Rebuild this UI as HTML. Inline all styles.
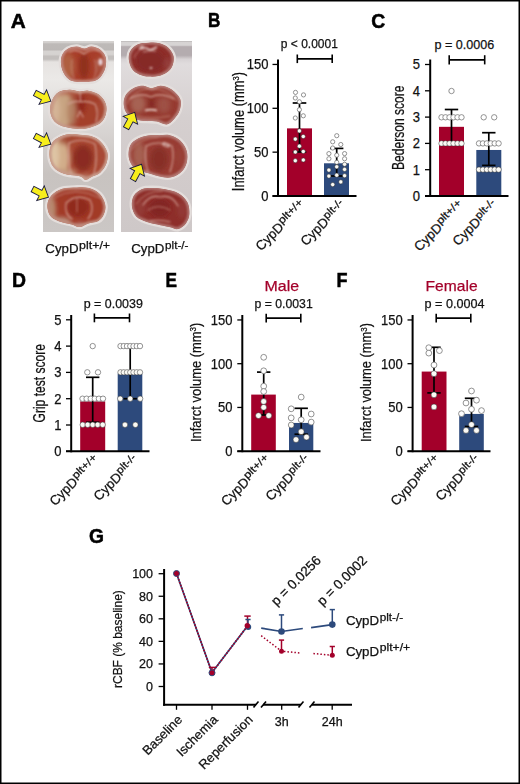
<!DOCTYPE html><html><head><meta charset="utf-8"><style>html,body{margin:0;padding:0;background:#fff;}body{width:520px;height:784px;overflow:hidden;}</style></head><body><svg width="520" height="784" viewBox="0 0 520 784" style="display:block">
<style>text{font-family:"Liberation Sans", sans-serif;stroke:#111;stroke-width:0.25px;paint-order:stroke;} text[fill="#a3002a"]{stroke:#a3002a;}</style>
<rect x="0" y="0" width="520" height="784" fill="#fff"/>
<defs>
<linearGradient id="bgL" x1="0" y1="41" x2="0" y2="232" gradientUnits="userSpaceOnUse">
<stop offset="0" stop-color="#d7d4d2"/><stop offset="0.008" stop-color="#d2cfcd"/><stop offset="0.015" stop-color="#bebab8"/>
<stop offset="0.045" stop-color="#bcb8b6"/><stop offset="0.055" stop-color="#d6d3d1"/><stop offset="0.07" stop-color="#d6d3d1"/>
<stop offset="0.08" stop-color="#c3bfbd"/><stop offset="0.095" stop-color="#c3bfbd"/><stop offset="0.11" stop-color="#e6e3e1"/>
<stop offset="0.2" stop-color="#ebe9e7"/><stop offset="0.33" stop-color="#e2dfdd"/><stop offset="0.52" stop-color="#d4d0ce"/><stop offset="0.7" stop-color="#c8c3c0"/><stop offset="1" stop-color="#cbc7c5"/>
</linearGradient>
<linearGradient id="bgR" x1="0" y1="41" x2="0" y2="232" gradientUnits="userSpaceOnUse">
<stop offset="0" stop-color="#bab6b6"/><stop offset="0.008" stop-color="#d7d4d4"/><stop offset="0.022" stop-color="#d7d4d4"/>
<stop offset="0.03" stop-color="#b4acaf"/><stop offset="0.075" stop-color="#b4acaf"/><stop offset="0.095" stop-color="#d7d2d4"/>
<stop offset="0.12" stop-color="#e0dcdd"/><stop offset="0.4" stop-color="#d5cfcf"/><stop offset="0.7" stop-color="#d2cbcb"/><stop offset="1" stop-color="#cec8c8"/>
</linearGradient>
<filter id="soft" x="-10%" y="-10%" width="120%" height="120%"><feGaussianBlur stdDeviation="0.6"/></filter>
<filter id="b2" x="-30%" y="-30%" width="160%" height="160%"><feGaussianBlur stdDeviation="2.2"/></filter>
<filter id="b1" x="-30%" y="-30%" width="160%" height="160%"><feGaussianBlur stdDeviation="1"/></filter>

<clipPath id="cL1"><path d="M84.5,48.6 C87.0,48.6 88.9,46.4 91.5,46.6 C94.1,46.8 97.8,47.9 100.1,49.6 C102.4,51.4 104.7,54.2 105.6,57.1 C106.5,60.0 106.2,63.8 105.6,66.8 C105.0,69.8 103.4,73.0 101.8,75.3 C100.2,77.6 98.6,79.4 95.7,80.5 C92.8,81.6 88.4,81.9 84.5,82.0 C80.6,82.1 75.5,82.1 72.3,81.0 C69.1,79.9 67.0,78.0 65.2,75.4 C63.4,72.9 61.8,69.0 61.2,65.7 C60.7,62.4 60.8,58.3 61.9,55.5 C63.0,52.7 65.4,50.3 67.8,48.8 C70.2,47.3 73.7,46.6 76.5,46.6 C79.3,46.6 82.0,48.6 84.5,48.6 Z"/></clipPath>
<clipPath id="cL2"><path d="M79.3,91.4 C82.4,91.6 85.1,90.1 88.4,90.7 C91.7,91.3 96.3,92.5 99.2,94.8 C102.1,97.0 104.8,100.8 105.9,104.2 C107.0,107.6 106.5,111.9 105.6,115.0 C104.7,118.1 103.1,120.9 100.5,123.0 C97.9,125.1 93.3,126.7 89.8,127.7 C86.3,128.7 83.8,129.2 79.7,129.1 C75.7,129.0 69.7,128.3 65.5,127.1 C61.4,125.9 57.4,124.4 54.8,121.7 C52.2,119.0 50.5,114.5 50.1,110.9 C49.7,107.3 50.7,103.3 52.1,100.2 C53.5,97.1 55.9,93.8 58.8,92.1 C61.7,90.3 66.2,89.8 69.6,89.7 C73.0,89.6 76.2,91.2 79.3,91.4 Z"/></clipPath>
<clipPath id="cL3"><path d="M80.3,134.7 C83.7,135.0 87.7,135.0 91.1,136.1 C94.5,137.2 97.8,138.8 100.5,141.5 C103.2,144.2 106.3,148.6 107.3,152.2 C108.3,155.8 107.7,159.6 106.6,163.0 C105.5,166.4 102.8,170.2 100.5,172.4 C98.2,174.7 95.0,175.3 92.5,176.5 C90.0,177.7 87.7,179.8 85.7,179.8 C83.7,179.8 83.9,177.5 80.3,176.5 C76.7,175.5 68.7,175.4 64.2,173.8 C59.7,172.2 55.9,170.2 53.4,167.0 C50.9,163.8 49.6,158.9 49.4,154.9 C49.2,150.9 50.1,145.9 52.1,142.8 C54.1,139.7 58.4,137.6 61.5,136.1 C64.6,134.6 67.8,134.2 70.9,134.0 C74.0,133.8 76.9,134.3 80.3,134.7 Z"/></clipPath>
<clipPath id="cL4"><path d="M77.0,187.4 C81.5,187.3 85.3,187.0 89.1,188.1 C92.9,189.2 97.2,191.3 99.9,194.1 C102.6,196.9 104.6,201.5 105.3,204.9 C106.0,208.3 105.0,211.6 103.9,214.3 C102.8,217.0 101.2,219.4 98.5,221.0 C95.8,222.6 90.9,222.7 87.8,223.7 C84.7,224.7 82.4,227.0 79.7,227.1 C77.0,227.2 75.2,225.4 71.6,224.4 C68.0,223.4 61.8,222.5 58.2,221.0 C54.6,219.5 51.9,218.3 50.1,215.6 C48.3,212.9 47.2,208.2 47.4,204.9 C47.6,201.6 48.9,198.2 51.4,195.5 C53.9,192.8 57.9,190.0 62.2,188.7 C66.5,187.3 72.5,187.5 77.0,187.4 Z"/></clipPath>
<clipPath id="cR1"><path d="M148.8,42.7 C152.4,42.5 156.3,42.4 159.5,43.2 C162.7,44.0 165.8,45.4 168.1,47.5 C170.4,49.6 172.8,53.1 173.5,56.1 C174.2,59.1 173.5,63.1 172.4,65.8 C171.3,68.5 169.4,70.6 167.1,72.3 C164.8,74.0 161.4,75.4 158.4,76.1 C155.4,76.8 152.0,76.9 148.8,76.6 C145.6,76.3 141.9,75.7 139.1,74.4 C136.3,73.2 133.8,71.6 132.1,69.1 C130.4,66.6 129.1,62.4 128.8,59.4 C128.5,56.4 129.0,53.3 130.5,50.8 C132.0,48.3 134.9,45.6 138.0,44.3 C141.1,42.9 145.2,42.9 148.8,42.7 Z"/></clipPath>
<clipPath id="cR2"><path d="M151.4,88.2 C154.3,88.2 157.2,85.5 160.6,85.7 C164.0,85.9 168.4,87.2 171.7,89.4 C175.0,91.7 179.0,95.7 180.3,99.2 C181.6,102.7 180.7,107.0 179.7,110.3 C178.7,113.6 176.3,116.5 174.2,118.9 C172.0,121.3 169.7,124.0 166.8,124.5 C163.9,125.0 160.3,122.2 157.0,121.6 C153.7,121.0 150.2,121.3 147.0,121.0 C143.8,120.7 141.3,121.2 138.0,120.0 C134.7,118.8 129.8,116.6 127.4,114.0 C125.0,111.4 123.9,107.5 123.7,104.2 C123.5,100.9 124.3,97.1 126.2,94.3 C128.1,91.5 131.9,88.9 134.8,87.5 C137.7,86.1 140.6,85.6 143.4,85.7 C146.2,85.8 148.5,88.2 151.4,88.2 Z"/></clipPath>
<clipPath id="cR3"><path d="M159.3,135.2 C162.6,135.2 166.3,134.3 169.8,135.2 C173.3,136.1 177.4,137.9 180.2,140.5 C183.0,143.1 185.6,147.2 186.7,150.9 C187.8,154.6 187.6,159.2 186.7,162.7 C185.8,166.2 183.9,169.4 181.5,171.8 C179.1,174.2 175.7,176.2 172.4,177.1 C169.1,178.0 166.1,177.8 161.9,177.1 C157.8,176.4 151.8,174.4 147.5,173.1 C143.2,171.8 138.7,171.1 135.8,169.2 C132.9,167.2 131.1,164.2 129.9,161.4 C128.7,158.6 128.3,155.2 128.6,152.2 C128.9,149.1 129.7,145.6 131.8,143.1 C133.9,140.6 137.9,138.5 141.0,137.2 C144.1,135.9 147.0,135.5 150.1,135.2 C153.2,134.9 156.0,135.2 159.3,135.2 Z"/></clipPath>
<clipPath id="cR4"><path d="M152.1,187.9 C156.0,187.9 160.8,188.3 165.2,189.2 C169.6,190.1 174.6,191.0 178.3,193.2 C182.0,195.4 185.6,198.8 187.4,202.3 C189.2,205.8 189.6,210.6 189.4,214.1 C189.2,217.6 187.9,220.7 186.1,223.2 C184.2,225.7 181.1,228.4 178.3,229.1 C175.5,229.8 172.6,227.9 169.1,227.1 C165.6,226.3 161.1,225.4 157.4,224.5 C153.7,223.6 150.4,223.2 146.9,221.9 C143.4,220.6 139.0,219.3 136.5,216.7 C134.0,214.1 132.3,209.7 131.9,206.2 C131.5,202.7 132.2,198.6 133.8,195.8 C135.4,193.0 138.6,190.5 141.7,189.2 C144.8,187.9 148.2,187.9 152.1,187.9 Z"/></clipPath>
</defs>
<rect x="43" y="41" width="71" height="191" fill="url(#bgL)"/>
<rect x="121" y="41" width="71" height="191" fill="url(#bgR)"/>
<g filter="url(#soft)">
<path d="M84.5,48.6 C87.0,48.6 88.9,46.4 91.5,46.6 C94.1,46.8 97.8,47.9 100.1,49.6 C102.4,51.4 104.7,54.2 105.6,57.1 C106.5,60.0 106.2,63.8 105.6,66.8 C105.0,69.8 103.4,73.0 101.8,75.3 C100.2,77.6 98.6,79.4 95.7,80.5 C92.8,81.6 88.4,81.9 84.5,82.0 C80.6,82.1 75.5,82.1 72.3,81.0 C69.1,79.9 67.0,78.0 65.2,75.4 C63.4,72.9 61.8,69.0 61.2,65.7 C60.7,62.4 60.8,58.3 61.9,55.5 C63.0,52.7 65.4,50.3 67.8,48.8 C70.2,47.3 73.7,46.6 76.5,46.6 C79.3,46.6 82.0,48.6 84.5,48.6 Z" fill="#e2dcda" stroke="#e4dedc" stroke-width="4.6" stroke-linejoin="round"/>
<g clip-path="url(#cL1)">
<path d="M84.5,48.6 C87.0,48.6 88.9,46.4 91.5,46.6 C94.1,46.8 97.8,47.9 100.1,49.6 C102.4,51.4 104.7,54.2 105.6,57.1 C106.5,60.0 106.2,63.8 105.6,66.8 C105.0,69.8 103.4,73.0 101.8,75.3 C100.2,77.6 98.6,79.4 95.7,80.5 C92.8,81.6 88.4,81.9 84.5,82.0 C80.6,82.1 75.5,82.1 72.3,81.0 C69.1,79.9 67.0,78.0 65.2,75.4 C63.4,72.9 61.8,69.0 61.2,65.7 C60.7,62.4 60.8,58.3 61.9,55.5 C63.0,52.7 65.4,50.3 67.8,48.8 C70.2,47.3 73.7,46.6 76.5,46.6 C79.3,46.6 82.0,48.6 84.5,48.6 Z" fill="#a83e2a"/>
<g filter="url(#b2)"><ellipse cx="68" cy="66" rx="7" ry="13" fill="#b26846" opacity="0.8"/><ellipse cx="100" cy="66" rx="5" ry="10" fill="#aa5a48" opacity="0.6"/><ellipse cx="84" cy="66" rx="5" ry="13" fill="#8a2a1c" opacity="0.8"/></g>
<path d="M84.5,48.6 C87.0,48.6 88.9,46.4 91.5,46.6 C94.1,46.8 97.8,47.9 100.1,49.6 C102.4,51.4 104.7,54.2 105.6,57.1 C106.5,60.0 106.2,63.8 105.6,66.8 C105.0,69.8 103.4,73.0 101.8,75.3 C100.2,77.6 98.6,79.4 95.7,80.5 C92.8,81.6 88.4,81.9 84.5,82.0 C80.6,82.1 75.5,82.1 72.3,81.0 C69.1,79.9 67.0,78.0 65.2,75.4 C63.4,72.9 61.8,69.0 61.2,65.7 C60.7,62.4 60.8,58.3 61.9,55.5 C63.0,52.7 65.4,50.3 67.8,48.8 C70.2,47.3 73.7,46.6 76.5,46.6 C79.3,46.6 82.0,48.6 84.5,48.6 Z" fill="none" stroke="#c0867a" stroke-width="4.2" filter="url(#b1)"/>
<g filter="url(#b1)"><path d="M69,52 Q76,48 84,54 Q91,48 99,51" fill="none" stroke="#d4a498" stroke-width="1.1" stroke-linecap="round"/><ellipse cx="100.5" cy="62" rx="2.2" ry="3.5" fill="#e6d2d8"/><path d="M72,60 Q70,70 74,78 M95,60 Q98,70 94,78" fill="none" stroke="#c48878" stroke-width="0.9" stroke-linecap="round"/></g>
</g>
<path d="M79.3,91.4 C82.4,91.6 85.1,90.1 88.4,90.7 C91.7,91.3 96.3,92.5 99.2,94.8 C102.1,97.0 104.8,100.8 105.9,104.2 C107.0,107.6 106.5,111.9 105.6,115.0 C104.7,118.1 103.1,120.9 100.5,123.0 C97.9,125.1 93.3,126.7 89.8,127.7 C86.3,128.7 83.8,129.2 79.7,129.1 C75.7,129.0 69.7,128.3 65.5,127.1 C61.4,125.9 57.4,124.4 54.8,121.7 C52.2,119.0 50.5,114.5 50.1,110.9 C49.7,107.3 50.7,103.3 52.1,100.2 C53.5,97.1 55.9,93.8 58.8,92.1 C61.7,90.3 66.2,89.8 69.6,89.7 C73.0,89.6 76.2,91.2 79.3,91.4 Z" fill="#e2dcda" stroke="#e4dedc" stroke-width="4.6" stroke-linejoin="round"/>
<g clip-path="url(#cL2)">
<path d="M79.3,91.4 C82.4,91.6 85.1,90.1 88.4,90.7 C91.7,91.3 96.3,92.5 99.2,94.8 C102.1,97.0 104.8,100.8 105.9,104.2 C107.0,107.6 106.5,111.9 105.6,115.0 C104.7,118.1 103.1,120.9 100.5,123.0 C97.9,125.1 93.3,126.7 89.8,127.7 C86.3,128.7 83.8,129.2 79.7,129.1 C75.7,129.0 69.7,128.3 65.5,127.1 C61.4,125.9 57.4,124.4 54.8,121.7 C52.2,119.0 50.5,114.5 50.1,110.9 C49.7,107.3 50.7,103.3 52.1,100.2 C53.5,97.1 55.9,93.8 58.8,92.1 C61.7,90.3 66.2,89.8 69.6,89.7 C73.0,89.6 76.2,91.2 79.3,91.4 Z" fill="#a4402c"/>
<g filter="url(#b2)"><ellipse cx="61" cy="110" rx="13" ry="19" fill="#c8a482"/><ellipse cx="55" cy="110" rx="5" ry="14" fill="#d4b496"/><ellipse cx="72" cy="112" rx="5" ry="15" fill="#b07a5e" opacity="0.8"/><ellipse cx="68" cy="91.5" rx="12" ry="3.5" fill="#b46650" opacity="0.85"/><ellipse cx="81" cy="104" rx="4.5" ry="10" fill="#8e2218" opacity="0.9"/><ellipse cx="102" cy="110" rx="4" ry="12" fill="#a84c36" opacity="0.7"/></g>
<path d="M79.3,91.4 C82.4,91.6 85.1,90.1 88.4,90.7 C91.7,91.3 96.3,92.5 99.2,94.8 C102.1,97.0 104.8,100.8 105.9,104.2 C107.0,107.6 106.5,111.9 105.6,115.0 C104.7,118.1 103.1,120.9 100.5,123.0 C97.9,125.1 93.3,126.7 89.8,127.7 C86.3,128.7 83.8,129.2 79.7,129.1 C75.7,129.0 69.7,128.3 65.5,127.1 C61.4,125.9 57.4,124.4 54.8,121.7 C52.2,119.0 50.5,114.5 50.1,110.9 C49.7,107.3 50.7,103.3 52.1,100.2 C53.5,97.1 55.9,93.8 58.8,92.1 C61.7,90.3 66.2,89.8 69.6,89.7 C73.0,89.6 76.2,91.2 79.3,91.4 Z" fill="none" stroke="#c69a8a" stroke-width="4.2" filter="url(#b1)"/>
<g filter="url(#b1)"><path d="M80,92 L80.5,102 M68,104 Q74,100 80.5,102 Q87,100 95,104 Q99,112 96,122" fill="none" stroke="#d4a498" stroke-width="1.1" stroke-linecap="round"/><path d="M77.5,117 L80,111 L83,117" fill="none" stroke="#d4a498" stroke-width="1.1" stroke-linecap="round"/><path d="M52,110 Q54,96 66,92" fill="none" stroke="#c48878" stroke-width="0.9" stroke-linecap="round"/></g>
</g>
<path d="M80.3,134.7 C83.7,135.0 87.7,135.0 91.1,136.1 C94.5,137.2 97.8,138.8 100.5,141.5 C103.2,144.2 106.3,148.6 107.3,152.2 C108.3,155.8 107.7,159.6 106.6,163.0 C105.5,166.4 102.8,170.2 100.5,172.4 C98.2,174.7 95.0,175.3 92.5,176.5 C90.0,177.7 87.7,179.8 85.7,179.8 C83.7,179.8 83.9,177.5 80.3,176.5 C76.7,175.5 68.7,175.4 64.2,173.8 C59.7,172.2 55.9,170.2 53.4,167.0 C50.9,163.8 49.6,158.9 49.4,154.9 C49.2,150.9 50.1,145.9 52.1,142.8 C54.1,139.7 58.4,137.6 61.5,136.1 C64.6,134.6 67.8,134.2 70.9,134.0 C74.0,133.8 76.9,134.3 80.3,134.7 Z" fill="#e2dcda" stroke="#e4dedc" stroke-width="4.6" stroke-linejoin="round"/>
<g clip-path="url(#cL3)">
<path d="M80.3,134.7 C83.7,135.0 87.7,135.0 91.1,136.1 C94.5,137.2 97.8,138.8 100.5,141.5 C103.2,144.2 106.3,148.6 107.3,152.2 C108.3,155.8 107.7,159.6 106.6,163.0 C105.5,166.4 102.8,170.2 100.5,172.4 C98.2,174.7 95.0,175.3 92.5,176.5 C90.0,177.7 87.7,179.8 85.7,179.8 C83.7,179.8 83.9,177.5 80.3,176.5 C76.7,175.5 68.7,175.4 64.2,173.8 C59.7,172.2 55.9,170.2 53.4,167.0 C50.9,163.8 49.6,158.9 49.4,154.9 C49.2,150.9 50.1,145.9 52.1,142.8 C54.1,139.7 58.4,137.6 61.5,136.1 C64.6,134.6 67.8,134.2 70.9,134.0 C74.0,133.8 76.9,134.3 80.3,134.7 Z" fill="#a84732"/>
<g filter="url(#b2)"><ellipse cx="58" cy="158" rx="11.5" ry="22" fill="#d2ad8a"/><ellipse cx="54" cy="156" rx="5" ry="15" fill="#dec4a4"/><ellipse cx="66" cy="173" rx="10" ry="4" fill="#c29a7c"/><ellipse cx="66" cy="140" rx="8" ry="5" fill="#a04a34" opacity="0.7"/><ellipse cx="83" cy="158" rx="10" ry="13" fill="#87281e" opacity="0.9"/><ellipse cx="102" cy="156" rx="4" ry="14" fill="#a84c36" opacity="0.6"/><ellipse cx="86" cy="178" rx="4" ry="3" fill="#c09080"/></g>
<path d="M80.3,134.7 C83.7,135.0 87.7,135.0 91.1,136.1 C94.5,137.2 97.8,138.8 100.5,141.5 C103.2,144.2 106.3,148.6 107.3,152.2 C108.3,155.8 107.7,159.6 106.6,163.0 C105.5,166.4 102.8,170.2 100.5,172.4 C98.2,174.7 95.0,175.3 92.5,176.5 C90.0,177.7 87.7,179.8 85.7,179.8 C83.7,179.8 83.9,177.5 80.3,176.5 C76.7,175.5 68.7,175.4 64.2,173.8 C59.7,172.2 55.9,170.2 53.4,167.0 C50.9,163.8 49.6,158.9 49.4,154.9 C49.2,150.9 50.1,145.9 52.1,142.8 C54.1,139.7 58.4,137.6 61.5,136.1 C64.6,134.6 67.8,134.2 70.9,134.0 C74.0,133.8 76.9,134.3 80.3,134.7 Z" fill="none" stroke="#c89c8c" stroke-width="4.2" filter="url(#b1)"/>
<g filter="url(#b1)"><path d="M69,143 Q81,137 95,144 Q98,158 94,174" fill="none" stroke="#d4a498" stroke-width="1.1" stroke-linecap="round" stroke-width="1.4"/><path d="M69,143 Q67,158 71,174" fill="none" stroke="#d4a498" stroke-width="1.1" stroke-linecap="round"/><path d="M52,146 Q58,137 70,135" fill="none" stroke="#c48878" stroke-width="0.9" stroke-linecap="round"/></g>
</g>
<path d="M77.0,187.4 C81.5,187.3 85.3,187.0 89.1,188.1 C92.9,189.2 97.2,191.3 99.9,194.1 C102.6,196.9 104.6,201.5 105.3,204.9 C106.0,208.3 105.0,211.6 103.9,214.3 C102.8,217.0 101.2,219.4 98.5,221.0 C95.8,222.6 90.9,222.7 87.8,223.7 C84.7,224.7 82.4,227.0 79.7,227.1 C77.0,227.2 75.2,225.4 71.6,224.4 C68.0,223.4 61.8,222.5 58.2,221.0 C54.6,219.5 51.9,218.3 50.1,215.6 C48.3,212.9 47.2,208.2 47.4,204.9 C47.6,201.6 48.9,198.2 51.4,195.5 C53.9,192.8 57.9,190.0 62.2,188.7 C66.5,187.3 72.5,187.5 77.0,187.4 Z" fill="#e2dcda" stroke="#e4dedc" stroke-width="4.6" stroke-linejoin="round"/>
<g clip-path="url(#cL4)">
<path d="M77.0,187.4 C81.5,187.3 85.3,187.0 89.1,188.1 C92.9,189.2 97.2,191.3 99.9,194.1 C102.6,196.9 104.6,201.5 105.3,204.9 C106.0,208.3 105.0,211.6 103.9,214.3 C102.8,217.0 101.2,219.4 98.5,221.0 C95.8,222.6 90.9,222.7 87.8,223.7 C84.7,224.7 82.4,227.0 79.7,227.1 C77.0,227.2 75.2,225.4 71.6,224.4 C68.0,223.4 61.8,222.5 58.2,221.0 C54.6,219.5 51.9,218.3 50.1,215.6 C48.3,212.9 47.2,208.2 47.4,204.9 C47.6,201.6 48.9,198.2 51.4,195.5 C53.9,192.8 57.9,190.0 62.2,188.7 C66.5,187.3 72.5,187.5 77.0,187.4 Z" fill="#a23a28"/>
<g filter="url(#b2)"><ellipse cx="51" cy="210" rx="5" ry="14" fill="#b88a70"/><ellipse cx="60" cy="222" rx="11" ry="5" fill="#b8907c"/><ellipse cx="78" cy="207" rx="11" ry="10" fill="#842218" opacity="0.6"/><ellipse cx="80" cy="226" rx="6" ry="3" fill="#c09088"/></g>
<path d="M77.0,187.4 C81.5,187.3 85.3,187.0 89.1,188.1 C92.9,189.2 97.2,191.3 99.9,194.1 C102.6,196.9 104.6,201.5 105.3,204.9 C106.0,208.3 105.0,211.6 103.9,214.3 C102.8,217.0 101.2,219.4 98.5,221.0 C95.8,222.6 90.9,222.7 87.8,223.7 C84.7,224.7 82.4,227.0 79.7,227.1 C77.0,227.2 75.2,225.4 71.6,224.4 C68.0,223.4 61.8,222.5 58.2,221.0 C54.6,219.5 51.9,218.3 50.1,215.6 C48.3,212.9 47.2,208.2 47.4,204.9 C47.6,201.6 48.9,198.2 51.4,195.5 C53.9,192.8 57.9,190.0 62.2,188.7 C66.5,187.3 72.5,187.5 77.0,187.4 Z" fill="none" stroke="#c08a7c" stroke-width="4.2" filter="url(#b1)"/>
<g filter="url(#b1)"><path d="M66,203 Q76,193 90,200 Q95,210 88,219 M66,203 Q64,214 72,219" fill="none" stroke="#d4a498" stroke-width="1.1" stroke-linecap="round"/><path d="M54,198 Q75,185 100,198" fill="none" stroke="#c48878" stroke-width="0.9" stroke-linecap="round"/><path d="M77,198 L77,212" fill="none" stroke="#c48878" stroke-width="0.9" stroke-linecap="round"/></g>
</g>
<path d="M148.8,42.7 C152.4,42.5 156.3,42.4 159.5,43.2 C162.7,44.0 165.8,45.4 168.1,47.5 C170.4,49.6 172.8,53.1 173.5,56.1 C174.2,59.1 173.5,63.1 172.4,65.8 C171.3,68.5 169.4,70.6 167.1,72.3 C164.8,74.0 161.4,75.4 158.4,76.1 C155.4,76.8 152.0,76.9 148.8,76.6 C145.6,76.3 141.9,75.7 139.1,74.4 C136.3,73.2 133.8,71.6 132.1,69.1 C130.4,66.6 129.1,62.4 128.8,59.4 C128.5,56.4 129.0,53.3 130.5,50.8 C132.0,48.3 134.9,45.6 138.0,44.3 C141.1,42.9 145.2,42.9 148.8,42.7 Z" fill="#e2dcda" stroke="#e4dedc" stroke-width="4.6" stroke-linejoin="round"/>
<g clip-path="url(#cR1)">
<path d="M148.8,42.7 C152.4,42.5 156.3,42.4 159.5,43.2 C162.7,44.0 165.8,45.4 168.1,47.5 C170.4,49.6 172.8,53.1 173.5,56.1 C174.2,59.1 173.5,63.1 172.4,65.8 C171.3,68.5 169.4,70.6 167.1,72.3 C164.8,74.0 161.4,75.4 158.4,76.1 C155.4,76.8 152.0,76.9 148.8,76.6 C145.6,76.3 141.9,75.7 139.1,74.4 C136.3,73.2 133.8,71.6 132.1,69.1 C130.4,66.6 129.1,62.4 128.8,59.4 C128.5,56.4 129.0,53.3 130.5,50.8 C132.0,48.3 134.9,45.6 138.0,44.3 C141.1,42.9 145.2,42.9 148.8,42.7 Z" fill="#8e2e2a"/>
<g filter="url(#b2)"><ellipse cx="150" cy="61" rx="14" ry="11" fill="#802624" opacity="0.6"/><ellipse cx="168" cy="64" rx="4" ry="6" fill="#9a4a48" opacity="0.6"/></g>
<path d="M148.8,42.7 C152.4,42.5 156.3,42.4 159.5,43.2 C162.7,44.0 165.8,45.4 168.1,47.5 C170.4,49.6 172.8,53.1 173.5,56.1 C174.2,59.1 173.5,63.1 172.4,65.8 C171.3,68.5 169.4,70.6 167.1,72.3 C164.8,74.0 161.4,75.4 158.4,76.1 C155.4,76.8 152.0,76.9 148.8,76.6 C145.6,76.3 141.9,75.7 139.1,74.4 C136.3,73.2 133.8,71.6 132.1,69.1 C130.4,66.6 129.1,62.4 128.8,59.4 C128.5,56.4 129.0,53.3 130.5,50.8 C132.0,48.3 134.9,45.6 138.0,44.3 C141.1,42.9 145.2,42.9 148.8,42.7 Z" fill="none" stroke="#b07470" stroke-width="4.2" filter="url(#b1)"/>
<g filter="url(#b1)"><path d="M139,49 Q145,46 150,50 Q153,49 157,47" fill="none" stroke="#ecdcd8" stroke-width="1.4"/><path d="M143,52 Q150,50 156,51" fill="none" stroke="#d8b0a8" stroke-width="0.9"/><path d="M134,58 Q136,52 140,50" fill="none" stroke="#c89088" stroke-width="0.8"/><circle cx="142" cy="47.5" r="1.6" fill="none" stroke="#ecdcd8" stroke-width="1"/><ellipse cx="151" cy="68" rx="1.5" ry="1" fill="#e0c0b8"/></g>
</g>
<path d="M151.4,88.2 C154.3,88.2 157.2,85.5 160.6,85.7 C164.0,85.9 168.4,87.2 171.7,89.4 C175.0,91.7 179.0,95.7 180.3,99.2 C181.6,102.7 180.7,107.0 179.7,110.3 C178.7,113.6 176.3,116.5 174.2,118.9 C172.0,121.3 169.7,124.0 166.8,124.5 C163.9,125.0 160.3,122.2 157.0,121.6 C153.7,121.0 150.2,121.3 147.0,121.0 C143.8,120.7 141.3,121.2 138.0,120.0 C134.7,118.8 129.8,116.6 127.4,114.0 C125.0,111.4 123.9,107.5 123.7,104.2 C123.5,100.9 124.3,97.1 126.2,94.3 C128.1,91.5 131.9,88.9 134.8,87.5 C137.7,86.1 140.6,85.6 143.4,85.7 C146.2,85.8 148.5,88.2 151.4,88.2 Z" fill="#e2dcda" stroke="#e4dedc" stroke-width="4.6" stroke-linejoin="round"/>
<g clip-path="url(#cR2)">
<path d="M151.4,88.2 C154.3,88.2 157.2,85.5 160.6,85.7 C164.0,85.9 168.4,87.2 171.7,89.4 C175.0,91.7 179.0,95.7 180.3,99.2 C181.6,102.7 180.7,107.0 179.7,110.3 C178.7,113.6 176.3,116.5 174.2,118.9 C172.0,121.3 169.7,124.0 166.8,124.5 C163.9,125.0 160.3,122.2 157.0,121.6 C153.7,121.0 150.2,121.3 147.0,121.0 C143.8,120.7 141.3,121.2 138.0,120.0 C134.7,118.8 129.8,116.6 127.4,114.0 C125.0,111.4 123.9,107.5 123.7,104.2 C123.5,100.9 124.3,97.1 126.2,94.3 C128.1,91.5 131.9,88.9 134.8,87.5 C137.7,86.1 140.6,85.6 143.4,85.7 C146.2,85.8 148.5,88.2 151.4,88.2 Z" fill="#963a30"/>
<g filter="url(#b2)"><ellipse cx="138" cy="104" rx="7.5" ry="9" fill="#a86454" opacity="0.95"/><ellipse cx="164" cy="105" rx="6.5" ry="8" fill="#a0564a" opacity="0.8"/><ellipse cx="151.5" cy="104" rx="3" ry="8" fill="#7e2420" opacity="0.7"/></g>
<path d="M151.4,88.2 C154.3,88.2 157.2,85.5 160.6,85.7 C164.0,85.9 168.4,87.2 171.7,89.4 C175.0,91.7 179.0,95.7 180.3,99.2 C181.6,102.7 180.7,107.0 179.7,110.3 C178.7,113.6 176.3,116.5 174.2,118.9 C172.0,121.3 169.7,124.0 166.8,124.5 C163.9,125.0 160.3,122.2 157.0,121.6 C153.7,121.0 150.2,121.3 147.0,121.0 C143.8,120.7 141.3,121.2 138.0,120.0 C134.7,118.8 129.8,116.6 127.4,114.0 C125.0,111.4 123.9,107.5 123.7,104.2 C123.5,100.9 124.3,97.1 126.2,94.3 C128.1,91.5 131.9,88.9 134.8,87.5 C137.7,86.1 140.6,85.6 143.4,85.7 C146.2,85.8 148.5,88.2 151.4,88.2 Z" fill="none" stroke="#b47c76" stroke-width="4.2" filter="url(#b1)"/>
<g filter="url(#b1)"><path d="M130,99 Q140,92 151,97 Q161,92 174,99" fill="none" stroke="#d4a498" stroke-width="1.1" stroke-linecap="round" stroke-width="1.4"/><path d="M145,110.5 Q151,108.8 157,110.5" fill="none" stroke="#ecd8d0" stroke-width="1.8"/><path d="M127,104 Q130,91 150,88 Q168,89 177,101" fill="none" stroke="#c48878" stroke-width="0.9" stroke-linecap="round"/><path d="M137,116 Q150,120 170,116" fill="none" stroke="#c48878" stroke-width="0.9" stroke-linecap="round"/></g>
</g>
<path d="M159.3,135.2 C162.6,135.2 166.3,134.3 169.8,135.2 C173.3,136.1 177.4,137.9 180.2,140.5 C183.0,143.1 185.6,147.2 186.7,150.9 C187.8,154.6 187.6,159.2 186.7,162.7 C185.8,166.2 183.9,169.4 181.5,171.8 C179.1,174.2 175.7,176.2 172.4,177.1 C169.1,178.0 166.1,177.8 161.9,177.1 C157.8,176.4 151.8,174.4 147.5,173.1 C143.2,171.8 138.7,171.1 135.8,169.2 C132.9,167.2 131.1,164.2 129.9,161.4 C128.7,158.6 128.3,155.2 128.6,152.2 C128.9,149.1 129.7,145.6 131.8,143.1 C133.9,140.6 137.9,138.5 141.0,137.2 C144.1,135.9 147.0,135.5 150.1,135.2 C153.2,134.9 156.0,135.2 159.3,135.2 Z" fill="#e2dcda" stroke="#e4dedc" stroke-width="4.6" stroke-linejoin="round"/>
<g clip-path="url(#cR3)">
<path d="M159.3,135.2 C162.6,135.2 166.3,134.3 169.8,135.2 C173.3,136.1 177.4,137.9 180.2,140.5 C183.0,143.1 185.6,147.2 186.7,150.9 C187.8,154.6 187.6,159.2 186.7,162.7 C185.8,166.2 183.9,169.4 181.5,171.8 C179.1,174.2 175.7,176.2 172.4,177.1 C169.1,178.0 166.1,177.8 161.9,177.1 C157.8,176.4 151.8,174.4 147.5,173.1 C143.2,171.8 138.7,171.1 135.8,169.2 C132.9,167.2 131.1,164.2 129.9,161.4 C128.7,158.6 128.3,155.2 128.6,152.2 C128.9,149.1 129.7,145.6 131.8,143.1 C133.9,140.6 137.9,138.5 141.0,137.2 C144.1,135.9 147.0,135.5 150.1,135.2 C153.2,134.9 156.0,135.2 159.3,135.2 Z" fill="#983c33"/>
<g filter="url(#b2)"><ellipse cx="139" cy="155" rx="6" ry="13" fill="#a86656" opacity="0.85"/><ellipse cx="159" cy="159" rx="9" ry="12" fill="#802824" opacity="0.7"/><ellipse cx="180" cy="156" rx="4" ry="10" fill="#9a4438" opacity="0.6"/></g>
<path d="M159.3,135.2 C162.6,135.2 166.3,134.3 169.8,135.2 C173.3,136.1 177.4,137.9 180.2,140.5 C183.0,143.1 185.6,147.2 186.7,150.9 C187.8,154.6 187.6,159.2 186.7,162.7 C185.8,166.2 183.9,169.4 181.5,171.8 C179.1,174.2 175.7,176.2 172.4,177.1 C169.1,178.0 166.1,177.8 161.9,177.1 C157.8,176.4 151.8,174.4 147.5,173.1 C143.2,171.8 138.7,171.1 135.8,169.2 C132.9,167.2 131.1,164.2 129.9,161.4 C128.7,158.6 128.3,155.2 128.6,152.2 C128.9,149.1 129.7,145.6 131.8,143.1 C133.9,140.6 137.9,138.5 141.0,137.2 C144.1,135.9 147.0,135.5 150.1,135.2 C153.2,134.9 156.0,135.2 159.3,135.2 Z" fill="none" stroke="#b47c76" stroke-width="4.2" filter="url(#b1)"/>
<g filter="url(#b1)"><path d="M146,146 Q158,140 172,146 Q175,158 170,172" fill="none" stroke="#d4a498" stroke-width="1.1" stroke-linecap="round"/><path d="M146,146 Q144,160 148,172" fill="none" stroke="#d4a498" stroke-width="1.1" stroke-linecap="round"/><rect x="163" y="143.5" width="6" height="2.6" fill="none" stroke="#ecdcd8" stroke-width="0.9" transform="rotate(20 166 145)"/><path d="M131,150 Q140,138 158,137" fill="none" stroke="#c48878" stroke-width="0.9" stroke-linecap="round"/></g>
</g>
<path d="M152.1,187.9 C156.0,187.9 160.8,188.3 165.2,189.2 C169.6,190.1 174.6,191.0 178.3,193.2 C182.0,195.4 185.6,198.8 187.4,202.3 C189.2,205.8 189.6,210.6 189.4,214.1 C189.2,217.6 187.9,220.7 186.1,223.2 C184.2,225.7 181.1,228.4 178.3,229.1 C175.5,229.8 172.6,227.9 169.1,227.1 C165.6,226.3 161.1,225.4 157.4,224.5 C153.7,223.6 150.4,223.2 146.9,221.9 C143.4,220.6 139.0,219.3 136.5,216.7 C134.0,214.1 132.3,209.7 131.9,206.2 C131.5,202.7 132.2,198.6 133.8,195.8 C135.4,193.0 138.6,190.5 141.7,189.2 C144.8,187.9 148.2,187.9 152.1,187.9 Z" fill="#e2dcda" stroke="#e4dedc" stroke-width="4.6" stroke-linejoin="round"/>
<g clip-path="url(#cR4)">
<path d="M152.1,187.9 C156.0,187.9 160.8,188.3 165.2,189.2 C169.6,190.1 174.6,191.0 178.3,193.2 C182.0,195.4 185.6,198.8 187.4,202.3 C189.2,205.8 189.6,210.6 189.4,214.1 C189.2,217.6 187.9,220.7 186.1,223.2 C184.2,225.7 181.1,228.4 178.3,229.1 C175.5,229.8 172.6,227.9 169.1,227.1 C165.6,226.3 161.1,225.4 157.4,224.5 C153.7,223.6 150.4,223.2 146.9,221.9 C143.4,220.6 139.0,219.3 136.5,216.7 C134.0,214.1 132.3,209.7 131.9,206.2 C131.5,202.7 132.2,198.6 133.8,195.8 C135.4,193.0 138.6,190.5 141.7,189.2 C144.8,187.9 148.2,187.9 152.1,187.9 Z" fill="#8e2e2a"/>
<g filter="url(#b2)"><ellipse cx="160" cy="208" rx="10" ry="9" fill="#7a2020" opacity="0.6"/><ellipse cx="140" cy="208" rx="5" ry="9" fill="#9a4840" opacity="0.5"/><ellipse cx="182" cy="210" rx="4" ry="9" fill="#9a4840" opacity="0.5"/></g>
<path d="M152.1,187.9 C156.0,187.9 160.8,188.3 165.2,189.2 C169.6,190.1 174.6,191.0 178.3,193.2 C182.0,195.4 185.6,198.8 187.4,202.3 C189.2,205.8 189.6,210.6 189.4,214.1 C189.2,217.6 187.9,220.7 186.1,223.2 C184.2,225.7 181.1,228.4 178.3,229.1 C175.5,229.8 172.6,227.9 169.1,227.1 C165.6,226.3 161.1,225.4 157.4,224.5 C153.7,223.6 150.4,223.2 146.9,221.9 C143.4,220.6 139.0,219.3 136.5,216.7 C134.0,214.1 132.3,209.7 131.9,206.2 C131.5,202.7 132.2,198.6 133.8,195.8 C135.4,193.0 138.6,190.5 141.7,189.2 C144.8,187.9 148.2,187.9 152.1,187.9 Z" fill="none" stroke="#b07470" stroke-width="4.2" filter="url(#b1)"/>
<g filter="url(#b1)"><path d="M143,205 Q150,194 160,197 Q172,194 178,206" fill="none" stroke="#d4a498" stroke-width="1.1" stroke-linecap="round"/><path d="M148,210 Q158,203 170,210" fill="none" stroke="#c48878" stroke-width="0.9" stroke-linecap="round"/><path d="M150,221 Q160,219 170,222" fill="none" stroke="#d4a498" stroke-width="1.1" stroke-linecap="round"/><path d="M136,204 Q145,191 162,191" fill="none" stroke="#c48878" stroke-width="0.9" stroke-linecap="round"/></g>
</g>
</g>
<polygon points="0,0 -9,-8.2 -9,-3 -18,-3 -18,3 -9,3 -9,8.2" transform="translate(50.8,101.2) rotate(27.3)" fill="#f7ee1c" stroke="#1a1a40" stroke-width="0.9" stroke-linejoin="miter"/>
<polygon points="0,0 -9,-8.2 -9,-3 -18,-3 -18,3 -9,3 -9,8.2" transform="translate(50.8,144.2) rotate(27.3)" fill="#f7ee1c" stroke="#1a1a40" stroke-width="0.9" stroke-linejoin="miter"/>
<polygon points="0,0 -9,-8.2 -9,-3 -18,-3 -18,3 -9,3 -9,8.2" transform="translate(48.5,197.3) rotate(27.3)" fill="#f7ee1c" stroke="#1a1a40" stroke-width="0.9" stroke-linejoin="miter"/>
<polygon points="0,0 -9,-8.2 -9,-3 -18,-3 -18,3 -9,3 -9,8.2" transform="translate(134.7,112.4) rotate(-61.4)" fill="#f7ee1c" stroke="#1a1a40" stroke-width="0.9" stroke-linejoin="miter"/>
<polygon points="0,0 -9,-8.2 -9,-3 -18,-3 -18,3 -9,3 -9,8.2" transform="translate(141.6,164.3) rotate(-61.4)" fill="#f7ee1c" stroke="#1a1a40" stroke-width="0.9" stroke-linejoin="miter"/>
<text x="10.8" y="27.7" font-size="19.5" text-anchor="start" fill="#000" font-weight="bold" textLength="15" lengthAdjust="spacingAndGlyphs" style="stroke:#000;stroke-width:0.5px">A</text>
<text x="208" y="27.3" font-size="19.5" text-anchor="start" fill="#000" font-weight="bold" textLength="12.4" lengthAdjust="spacingAndGlyphs" style="stroke:#000;stroke-width:0.5px">B</text>
<text x="371.3" y="27.7" font-size="19.5" text-anchor="start" fill="#000" font-weight="bold" textLength="14" lengthAdjust="spacingAndGlyphs" style="stroke:#000;stroke-width:0.5px">C</text>
<text x="12" y="287.4" font-size="19.5" text-anchor="start" fill="#000" font-weight="bold" textLength="14" lengthAdjust="spacingAndGlyphs" style="stroke:#000;stroke-width:0.5px">D</text>
<text x="165.5" y="287.4" font-size="19.5" text-anchor="start" fill="#000" font-weight="bold" textLength="11.5" lengthAdjust="spacingAndGlyphs" style="stroke:#000;stroke-width:0.5px">E</text>
<text x="336.5" y="287.4" font-size="19.5" text-anchor="start" fill="#000" font-weight="bold" textLength="11" lengthAdjust="spacingAndGlyphs" style="stroke:#000;stroke-width:0.5px">F</text>
<text x="89" y="543" font-size="19.5" text-anchor="start" fill="#000" font-weight="bold" textLength="15" lengthAdjust="spacingAndGlyphs" style="stroke:#000;stroke-width:0.5px">G</text>
<text x="45.3" y="252.9" font-size="13.3" text-anchor="start" fill="#111" font-weight="normal" textLength="33.2" lengthAdjust="spacingAndGlyphs" >CypD</text>
<text x="79.1" y="248.9" font-size="11.2" text-anchor="start" fill="#111" font-weight="normal" textLength="31" lengthAdjust="spacingAndGlyphs" >plt+/+</text>
<text x="131.2" y="252.7" font-size="13.3" text-anchor="start" fill="#111" font-weight="normal" textLength="33.2" lengthAdjust="spacingAndGlyphs" >CypD</text>
<text x="164.99999999999997" y="248.7" font-size="11.2" text-anchor="start" fill="#111" font-weight="normal" textLength="23.5" lengthAdjust="spacingAndGlyphs" >plt-/-</text>
<rect x="287" y="128.38" width="25.00" height="67.62" fill="#a3002a"/>
<rect x="324" y="163.29" width="25.00" height="32.71" fill="#2d4a7c"/>
<line x1="299.5" y1="103" x2="299.5" y2="152" stroke="#000" stroke-width="1.7" />
<line x1="292.7" y1="103" x2="306.3" y2="103" stroke="#000" stroke-width="1.7" />
<line x1="292.7" y1="152" x2="306.3" y2="152" stroke="#000" stroke-width="1.7" />
<line x1="336.7" y1="148.4" x2="336.7" y2="176" stroke="#000" stroke-width="1.7" />
<line x1="330.0" y1="148.4" x2="343.4" y2="148.4" stroke="#000" stroke-width="1.7" />
<line x1="330.0" y1="176" x2="343.4" y2="176" stroke="#000" stroke-width="1.7" />
<circle cx="295.50" cy="92.40" r="2.1" fill="#fff" stroke="#777" stroke-width="0.8"/>
<circle cx="303.50" cy="94.90" r="2.1" fill="#fff" stroke="#777" stroke-width="0.8"/>
<circle cx="295.30" cy="98.00" r="2.1" fill="#fff" stroke="#777" stroke-width="0.8"/>
<circle cx="299.40" cy="101.80" r="2.1" fill="#fff" stroke="#777" stroke-width="0.8"/>
<circle cx="299.40" cy="109.70" r="2.1" fill="#fff" stroke="#777" stroke-width="0.8"/>
<circle cx="303.30" cy="115.80" r="2.1" fill="#fff" stroke="#777" stroke-width="0.8"/>
<circle cx="295.30" cy="118.00" r="2.1" fill="#fff" stroke="#777" stroke-width="0.8"/>
<circle cx="299.40" cy="130.90" r="2.1" fill="#fbfaf5" stroke="#333" stroke-width="0.5"/>
<circle cx="303.30" cy="136.50" r="2.1" fill="#fbfaf5" stroke="#333" stroke-width="0.5"/>
<circle cx="295.30" cy="139.10" r="2.1" fill="#fbfaf5" stroke="#333" stroke-width="0.5"/>
<circle cx="299.40" cy="146.20" r="2.1" fill="#fbfaf5" stroke="#333" stroke-width="0.5"/>
<circle cx="295.30" cy="152.00" r="2.1" fill="#fbfaf5" stroke="#333" stroke-width="0.5"/>
<circle cx="303.30" cy="151.50" r="2.1" fill="#fbfaf5" stroke="#333" stroke-width="0.5"/>
<circle cx="295.30" cy="160.70" r="2.1" fill="#fbfaf5" stroke="#333" stroke-width="0.5"/>
<circle cx="303.30" cy="160.00" r="2.1" fill="#fbfaf5" stroke="#333" stroke-width="0.5"/>
<circle cx="336.75" cy="135.70" r="2.1" fill="#fff" stroke="#777" stroke-width="0.8"/>
<circle cx="332.70" cy="141.80" r="2.1" fill="#fff" stroke="#777" stroke-width="0.8"/>
<circle cx="340.80" cy="144.50" r="2.1" fill="#fff" stroke="#777" stroke-width="0.8"/>
<circle cx="332.70" cy="148.00" r="2.1" fill="#fff" stroke="#777" stroke-width="0.8"/>
<circle cx="328.90" cy="153.60" r="2.1" fill="#fff" stroke="#777" stroke-width="0.8"/>
<circle cx="336.75" cy="155.20" r="2.1" fill="#fff" stroke="#777" stroke-width="0.8"/>
<circle cx="344.60" cy="153.60" r="2.1" fill="#fff" stroke="#777" stroke-width="0.8"/>
<circle cx="328.90" cy="158.75" r="2.1" fill="#fff" stroke="#777" stroke-width="0.8"/>
<circle cx="344.60" cy="158.75" r="2.1" fill="#fff" stroke="#777" stroke-width="0.8"/>
<circle cx="336.75" cy="162.30" r="2.1" fill="#fff" stroke="#777" stroke-width="0.8"/>
<circle cx="344.60" cy="164.30" r="2.1" fill="#fbfaf5" stroke="#333" stroke-width="0.5"/>
<circle cx="336.75" cy="166.80" r="2.1" fill="#fbfaf5" stroke="#333" stroke-width="0.5"/>
<circle cx="328.90" cy="170.10" r="2.1" fill="#fbfaf5" stroke="#333" stroke-width="0.5"/>
<circle cx="344.60" cy="169.40" r="2.1" fill="#fbfaf5" stroke="#333" stroke-width="0.5"/>
<circle cx="328.90" cy="176.10" r="2.1" fill="#fbfaf5" stroke="#333" stroke-width="0.5"/>
<circle cx="336.75" cy="175.20" r="2.1" fill="#fbfaf5" stroke="#333" stroke-width="0.5"/>
<circle cx="344.60" cy="175.70" r="2.1" fill="#fbfaf5" stroke="#333" stroke-width="0.5"/>
<circle cx="340.80" cy="181.90" r="2.1" fill="#fbfaf5" stroke="#333" stroke-width="0.5"/>
<circle cx="332.70" cy="184.60" r="2.1" fill="#fbfaf5" stroke="#333" stroke-width="0.5"/>
<line x1="278" y1="59.5" x2="278" y2="197" stroke="#000" stroke-width="2" />
<line x1="272.5" y1="196" x2="356.5" y2="196" stroke="#000" stroke-width="2" />
<line x1="272.5" y1="196.0" x2="278" y2="196.0" stroke="#000" stroke-width="1.3" />
<text x="268.5" y="200.98000000000002" font-size="13.780000000000001" text-anchor="end" fill="#111" font-weight="normal" textLength="7.23" lengthAdjust="spacingAndGlyphs" >0</text>
<line x1="272.5" y1="152.15" x2="278" y2="152.15" stroke="#000" stroke-width="1.3" />
<text x="268.5" y="157.13000000000002" font-size="13.780000000000001" text-anchor="end" fill="#111" font-weight="normal" textLength="14.46" lengthAdjust="spacingAndGlyphs" >50</text>
<line x1="272.5" y1="108.3" x2="278" y2="108.3" stroke="#000" stroke-width="1.3" />
<text x="268.5" y="113.27999999999999" font-size="13.780000000000001" text-anchor="end" fill="#111" font-weight="normal" textLength="21.68" lengthAdjust="spacingAndGlyphs" >100</text>
<line x1="272.5" y1="64.44999999999999" x2="278" y2="64.44999999999999" stroke="#000" stroke-width="1.3" />
<text x="268.5" y="69.42999999999999" font-size="13.780000000000001" text-anchor="end" fill="#111" font-weight="normal" textLength="21.68" lengthAdjust="spacingAndGlyphs" >150</text>
<line x1="297.3" y1="58.8" x2="332.2" y2="58.8" stroke="#000" stroke-width="1.8" />
<line x1="297.3" y1="54.5" x2="297.3" y2="63.099999999999994" stroke="#000" stroke-width="1.6" />
<line x1="332.2" y1="54.5" x2="332.2" y2="63.099999999999994" stroke="#000" stroke-width="1.6" />
<text x="280.8" y="48.2" font-size="12.8" text-anchor="start" fill="#111" font-weight="normal" textLength="57" lengthAdjust="spacingAndGlyphs" >p &lt; 0.0001</text>
<text transform="translate(244,191.2) rotate(-90)" font-size="16.2" fill="#111" textLength="119.3" lengthAdjust="spacingAndGlyphs">Infarct volume (mm<tspan font-size="9.5" dy="-4.6">3</tspan><tspan dy="4.6">)</tspan></text>
<g transform="translate(306.5,206.0) rotate(-45)">
<text x="-64.30" y="0" font-size="13.3" fill="#111" textLength="33.2" lengthAdjust="spacingAndGlyphs">CypD</text>
<text x="-30.50" y="-4.2" font-size="10.5" fill="#111" textLength="30.5" lengthAdjust="spacingAndGlyphs">plt+/+</text>
</g>
<g transform="translate(346.5,206.0) rotate(-45)">
<text x="-57.30" y="0" font-size="13.3" fill="#111" textLength="33.2" lengthAdjust="spacingAndGlyphs">CypD</text>
<text x="-23.50" y="-4.2" font-size="10.5" fill="#111" textLength="23.5" lengthAdjust="spacingAndGlyphs">plt-/-</text>
</g>
<rect x="439" y="126.83" width="25.00" height="69.17" fill="#a3002a"/>
<rect x="476.3" y="149.97" width="25.00" height="46.03" fill="#2d4a7c"/>
<line x1="451.5" y1="109.5" x2="451.5" y2="144" stroke="#000" stroke-width="1.7" />
<line x1="444.8" y1="109.5" x2="458.2" y2="109.5" stroke="#000" stroke-width="1.7" />
<line x1="444.8" y1="144" x2="458.2" y2="144" stroke="#000" stroke-width="1.7" />
<line x1="488.8" y1="132.7" x2="488.8" y2="165.4" stroke="#000" stroke-width="1.7" />
<line x1="482.1" y1="132.7" x2="495.5" y2="132.7" stroke="#000" stroke-width="1.7" />
<line x1="482.1" y1="165.4" x2="495.5" y2="165.4" stroke="#000" stroke-width="1.7" />
<circle cx="451.50" cy="91.00" r="2.7" fill="#fff" stroke="#777" stroke-width="0.8"/>
<circle cx="441.50" cy="117.30" r="2.7" fill="#fff" stroke="#777" stroke-width="0.8"/>
<circle cx="445.50" cy="117.30" r="2.7" fill="#fff" stroke="#777" stroke-width="0.8"/>
<circle cx="449.50" cy="117.30" r="2.7" fill="#fff" stroke="#777" stroke-width="0.8"/>
<circle cx="453.50" cy="117.30" r="2.7" fill="#fff" stroke="#777" stroke-width="0.8"/>
<circle cx="457.50" cy="117.30" r="2.7" fill="#fff" stroke="#777" stroke-width="0.8"/>
<circle cx="461.50" cy="117.30" r="2.7" fill="#fff" stroke="#777" stroke-width="0.8"/>
<circle cx="441.50" cy="143.40" r="2.7" fill="#fbfaf5" stroke="#333" stroke-width="0.5"/>
<circle cx="445.50" cy="143.40" r="2.7" fill="#fbfaf5" stroke="#333" stroke-width="0.5"/>
<circle cx="449.50" cy="143.40" r="2.7" fill="#fbfaf5" stroke="#333" stroke-width="0.5"/>
<circle cx="453.50" cy="143.40" r="2.7" fill="#fbfaf5" stroke="#333" stroke-width="0.5"/>
<circle cx="457.50" cy="143.40" r="2.7" fill="#fbfaf5" stroke="#333" stroke-width="0.5"/>
<circle cx="461.50" cy="143.40" r="2.7" fill="#fbfaf5" stroke="#333" stroke-width="0.5"/>
<circle cx="483.70" cy="117.30" r="2.7" fill="#fff" stroke="#777" stroke-width="0.8"/>
<circle cx="494.20" cy="117.30" r="2.7" fill="#fff" stroke="#777" stroke-width="0.8"/>
<circle cx="479.00" cy="143.40" r="2.7" fill="#fff" stroke="#777" stroke-width="0.8"/>
<circle cx="482.92" cy="143.40" r="2.7" fill="#fff" stroke="#777" stroke-width="0.8"/>
<circle cx="486.84" cy="143.40" r="2.7" fill="#fff" stroke="#777" stroke-width="0.8"/>
<circle cx="490.76" cy="143.40" r="2.7" fill="#fff" stroke="#777" stroke-width="0.8"/>
<circle cx="494.68" cy="143.40" r="2.7" fill="#fff" stroke="#777" stroke-width="0.8"/>
<circle cx="498.60" cy="143.40" r="2.7" fill="#fff" stroke="#777" stroke-width="0.8"/>
<circle cx="479.00" cy="169.60" r="2.7" fill="#fbfaf5" stroke="#333" stroke-width="0.5"/>
<circle cx="482.92" cy="169.60" r="2.7" fill="#fbfaf5" stroke="#333" stroke-width="0.5"/>
<circle cx="486.84" cy="169.60" r="2.7" fill="#fbfaf5" stroke="#333" stroke-width="0.5"/>
<circle cx="490.76" cy="169.60" r="2.7" fill="#fbfaf5" stroke="#333" stroke-width="0.5"/>
<circle cx="494.68" cy="169.60" r="2.7" fill="#fbfaf5" stroke="#333" stroke-width="0.5"/>
<circle cx="498.60" cy="169.60" r="2.7" fill="#fbfaf5" stroke="#333" stroke-width="0.5"/>
<line x1="430.2" y1="59.5" x2="430.2" y2="197" stroke="#000" stroke-width="2" />
<line x1="425" y1="196" x2="508.5" y2="196" stroke="#000" stroke-width="2" />
<line x1="425" y1="196.0" x2="430.2" y2="196.0" stroke="#000" stroke-width="1.3" />
<text x="420" y="200.98000000000002" font-size="13.780000000000001" text-anchor="end" fill="#111" font-weight="normal" textLength="7.23" lengthAdjust="spacingAndGlyphs" >0</text>
<line x1="425" y1="169.7" x2="430.2" y2="169.7" stroke="#000" stroke-width="1.3" />
<text x="420" y="174.68" font-size="13.780000000000001" text-anchor="end" fill="#111" font-weight="normal" textLength="7.23" lengthAdjust="spacingAndGlyphs" >1</text>
<line x1="425" y1="143.4" x2="430.2" y2="143.4" stroke="#000" stroke-width="1.3" />
<text x="420" y="148.38000000000002" font-size="13.780000000000001" text-anchor="end" fill="#111" font-weight="normal" textLength="7.23" lengthAdjust="spacingAndGlyphs" >2</text>
<line x1="425" y1="117.1" x2="430.2" y2="117.1" stroke="#000" stroke-width="1.3" />
<text x="420" y="122.08" font-size="13.780000000000001" text-anchor="end" fill="#111" font-weight="normal" textLength="7.23" lengthAdjust="spacingAndGlyphs" >3</text>
<line x1="425" y1="90.8" x2="430.2" y2="90.8" stroke="#000" stroke-width="1.3" />
<text x="420" y="95.77999999999999" font-size="13.780000000000001" text-anchor="end" fill="#111" font-weight="normal" textLength="7.23" lengthAdjust="spacingAndGlyphs" >4</text>
<line x1="425" y1="64.5" x2="430.2" y2="64.5" stroke="#000" stroke-width="1.3" />
<text x="420" y="69.48" font-size="13.780000000000001" text-anchor="end" fill="#111" font-weight="normal" textLength="7.23" lengthAdjust="spacingAndGlyphs" >5</text>
<line x1="449.2" y1="59.8" x2="484.7" y2="59.8" stroke="#000" stroke-width="1.8" />
<line x1="449.2" y1="55.199999999999996" x2="449.2" y2="64.39999999999999" stroke="#000" stroke-width="1.6" />
<line x1="484.7" y1="55.199999999999996" x2="484.7" y2="64.39999999999999" stroke="#000" stroke-width="1.6" />
<text x="434.5" y="49" font-size="12.8" text-anchor="start" fill="#111" font-weight="normal" textLength="59.7" lengthAdjust="spacingAndGlyphs" >p = 0.0006</text>
<text transform="translate(403.6,170) rotate(-90)" font-size="16.1" fill="#111" textLength="84.5" lengthAdjust="spacingAndGlyphs">Bederson score</text>
<g transform="translate(465.0,206.5) rotate(-45)">
<text x="-64.30" y="0" font-size="13.3" fill="#111" textLength="33.2" lengthAdjust="spacingAndGlyphs">CypD</text>
<text x="-30.50" y="-4.2" font-size="10.5" fill="#111" textLength="30.5" lengthAdjust="spacingAndGlyphs">plt+/+</text>
</g>
<g transform="translate(498.5,206.0) rotate(-45)">
<text x="-57.30" y="0" font-size="13.3" fill="#111" textLength="33.2" lengthAdjust="spacingAndGlyphs">CypD</text>
<text x="-23.50" y="-4.2" font-size="10.5" fill="#111" textLength="23.5" lengthAdjust="spacingAndGlyphs">plt-/-</text>
</g>
<rect x="80.2" y="401.33" width="25.00" height="49.97" fill="#a3002a"/>
<rect x="117.7" y="373.45" width="24.60" height="77.85" fill="#2d4a7c"/>
<line x1="92.7" y1="377.3" x2="92.7" y2="422.3" stroke="#000" stroke-width="1.7" />
<line x1="86.0" y1="377.3" x2="99.4" y2="377.3" stroke="#000" stroke-width="1.7" />
<line x1="86.0" y1="422.3" x2="99.4" y2="422.3" stroke="#000" stroke-width="1.7" />
<line x1="130.2" y1="346.3" x2="130.2" y2="398.7" stroke="#000" stroke-width="1.7" />
<line x1="123.49999999999999" y1="346.3" x2="136.89999999999998" y2="346.3" stroke="#000" stroke-width="1.7" />
<line x1="123.49999999999999" y1="398.7" x2="136.89999999999998" y2="398.7" stroke="#000" stroke-width="1.7" />
<circle cx="92.70" cy="346.10" r="2.7" fill="#fff" stroke="#777" stroke-width="0.8"/>
<circle cx="87.30" cy="372.30" r="2.7" fill="#fff" stroke="#777" stroke-width="0.8"/>
<circle cx="98.00" cy="372.30" r="2.7" fill="#fff" stroke="#777" stroke-width="0.8"/>
<circle cx="82.50" cy="398.70" r="2.7" fill="#fff" stroke="#777" stroke-width="0.8"/>
<circle cx="86.60" cy="398.70" r="2.7" fill="#fff" stroke="#777" stroke-width="0.8"/>
<circle cx="90.70" cy="398.70" r="2.7" fill="#fff" stroke="#777" stroke-width="0.8"/>
<circle cx="94.80" cy="398.70" r="2.7" fill="#fff" stroke="#777" stroke-width="0.8"/>
<circle cx="98.90" cy="398.70" r="2.7" fill="#fff" stroke="#777" stroke-width="0.8"/>
<circle cx="103.00" cy="398.70" r="2.7" fill="#fff" stroke="#777" stroke-width="0.8"/>
<circle cx="82.70" cy="424.80" r="2.7" fill="#fbfaf5" stroke="#333" stroke-width="0.5"/>
<circle cx="87.70" cy="424.80" r="2.7" fill="#fbfaf5" stroke="#333" stroke-width="0.5"/>
<circle cx="92.70" cy="424.80" r="2.7" fill="#fbfaf5" stroke="#333" stroke-width="0.5"/>
<circle cx="97.70" cy="424.80" r="2.7" fill="#fbfaf5" stroke="#333" stroke-width="0.5"/>
<circle cx="102.70" cy="424.80" r="2.7" fill="#fbfaf5" stroke="#333" stroke-width="0.5"/>
<circle cx="120.50" cy="346.10" r="2.7" fill="#fff" stroke="#777" stroke-width="0.8"/>
<circle cx="123.75" cy="346.10" r="2.7" fill="#fff" stroke="#777" stroke-width="0.8"/>
<circle cx="127.00" cy="346.10" r="2.7" fill="#fff" stroke="#777" stroke-width="0.8"/>
<circle cx="130.25" cy="346.10" r="2.7" fill="#fff" stroke="#777" stroke-width="0.8"/>
<circle cx="133.50" cy="346.10" r="2.7" fill="#fff" stroke="#777" stroke-width="0.8"/>
<circle cx="136.75" cy="346.10" r="2.7" fill="#fff" stroke="#777" stroke-width="0.8"/>
<circle cx="140.00" cy="346.10" r="2.7" fill="#fff" stroke="#777" stroke-width="0.8"/>
<circle cx="120.50" cy="372.30" r="2.7" fill="#fbfaf5" stroke="#333" stroke-width="0.5"/>
<circle cx="123.75" cy="372.30" r="2.7" fill="#fbfaf5" stroke="#333" stroke-width="0.5"/>
<circle cx="127.00" cy="372.30" r="2.7" fill="#fbfaf5" stroke="#333" stroke-width="0.5"/>
<circle cx="130.25" cy="372.30" r="2.7" fill="#fbfaf5" stroke="#333" stroke-width="0.5"/>
<circle cx="133.50" cy="372.30" r="2.7" fill="#fbfaf5" stroke="#333" stroke-width="0.5"/>
<circle cx="136.75" cy="372.30" r="2.7" fill="#fbfaf5" stroke="#333" stroke-width="0.5"/>
<circle cx="140.00" cy="372.30" r="2.7" fill="#fbfaf5" stroke="#333" stroke-width="0.5"/>
<circle cx="120.20" cy="398.70" r="2.7" fill="#fbfaf5" stroke="#333" stroke-width="0.5"/>
<circle cx="130.20" cy="398.70" r="2.7" fill="#fbfaf5" stroke="#333" stroke-width="0.5"/>
<circle cx="140.20" cy="398.70" r="2.7" fill="#fbfaf5" stroke="#333" stroke-width="0.5"/>
<circle cx="125.00" cy="424.80" r="2.7" fill="#fbfaf5" stroke="#333" stroke-width="0.5"/>
<circle cx="135.40" cy="424.80" r="2.7" fill="#fbfaf5" stroke="#333" stroke-width="0.5"/>
<line x1="71.2" y1="315" x2="71.2" y2="452.3" stroke="#000" stroke-width="2" />
<line x1="66" y1="451.3" x2="149.5" y2="451.3" stroke="#000" stroke-width="2" />
<line x1="66" y1="451.3" x2="71.2" y2="451.3" stroke="#000" stroke-width="1.3" />
<text x="61.5" y="456.28000000000003" font-size="13.780000000000001" text-anchor="end" fill="#111" font-weight="normal" textLength="7.23" lengthAdjust="spacingAndGlyphs" >0</text>
<line x1="66" y1="425.0" x2="71.2" y2="425.0" stroke="#000" stroke-width="1.3" />
<text x="61.5" y="429.98" font-size="13.780000000000001" text-anchor="end" fill="#111" font-weight="normal" textLength="7.23" lengthAdjust="spacingAndGlyphs" >1</text>
<line x1="66" y1="398.7" x2="71.2" y2="398.7" stroke="#000" stroke-width="1.3" />
<text x="61.5" y="403.68" font-size="13.780000000000001" text-anchor="end" fill="#111" font-weight="normal" textLength="7.23" lengthAdjust="spacingAndGlyphs" >2</text>
<line x1="66" y1="372.4" x2="71.2" y2="372.4" stroke="#000" stroke-width="1.3" />
<text x="61.5" y="377.38" font-size="13.780000000000001" text-anchor="end" fill="#111" font-weight="normal" textLength="7.23" lengthAdjust="spacingAndGlyphs" >3</text>
<line x1="66" y1="346.1" x2="71.2" y2="346.1" stroke="#000" stroke-width="1.3" />
<text x="61.5" y="351.08000000000004" font-size="13.780000000000001" text-anchor="end" fill="#111" font-weight="normal" textLength="7.23" lengthAdjust="spacingAndGlyphs" >4</text>
<line x1="66" y1="319.8" x2="71.2" y2="319.8" stroke="#000" stroke-width="1.3" />
<text x="61.5" y="324.78000000000003" font-size="13.780000000000001" text-anchor="end" fill="#111" font-weight="normal" textLength="7.23" lengthAdjust="spacingAndGlyphs" >5</text>
<line x1="94.4" y1="317.9" x2="129.5" y2="317.9" stroke="#000" stroke-width="1.8" />
<line x1="94.4" y1="313.5" x2="94.4" y2="322.29999999999995" stroke="#000" stroke-width="1.6" />
<line x1="129.5" y1="313.5" x2="129.5" y2="322.29999999999995" stroke="#000" stroke-width="1.6" />
<text x="83.65" y="308.2" font-size="12.8" text-anchor="start" fill="#111" font-weight="normal" textLength="59.2" lengthAdjust="spacingAndGlyphs" >p = 0.0039</text>
<text transform="translate(44.8,422.5) rotate(-90)" font-size="16.2" fill="#111" textLength="78.5" lengthAdjust="spacingAndGlyphs">Grip test score</text>
<g transform="translate(100.5,461.0) rotate(-45)">
<text x="-64.30" y="0" font-size="13.3" fill="#111" textLength="33.2" lengthAdjust="spacingAndGlyphs">CypD</text>
<text x="-30.50" y="-4.2" font-size="10.5" fill="#111" textLength="30.5" lengthAdjust="spacingAndGlyphs">plt+/+</text>
</g>
<g transform="translate(139.5,461.0) rotate(-45)">
<text x="-57.30" y="0" font-size="13.3" fill="#111" textLength="33.2" lengthAdjust="spacingAndGlyphs">CypD</text>
<text x="-23.50" y="-4.2" font-size="10.5" fill="#111" textLength="23.5" lengthAdjust="spacingAndGlyphs">plt-/-</text>
</g>
<rect x="251.2" y="394.59" width="24.60" height="56.61" fill="#a3002a"/>
<rect x="289" y="422.94" width="24.30" height="28.26" fill="#2d4a7c"/>
<line x1="263.7" y1="372.1" x2="263.7" y2="415" stroke="#000" stroke-width="1.7" />
<line x1="257.0" y1="372.1" x2="270.4" y2="372.1" stroke="#000" stroke-width="1.7" />
<line x1="257.0" y1="415" x2="270.4" y2="415" stroke="#000" stroke-width="1.7" />
<line x1="301.2" y1="408.3" x2="301.2" y2="434.2" stroke="#000" stroke-width="1.7" />
<line x1="294.5" y1="408.3" x2="307.9" y2="408.3" stroke="#000" stroke-width="1.7" />
<line x1="294.5" y1="434.2" x2="307.9" y2="434.2" stroke="#000" stroke-width="1.7" />
<circle cx="263.70" cy="357.30" r="2.9" fill="#fff" stroke="#777" stroke-width="0.8"/>
<circle cx="263.70" cy="370.80" r="2.9" fill="#fff" stroke="#777" stroke-width="0.8"/>
<circle cx="263.70" cy="386.20" r="2.9" fill="#fff" stroke="#777" stroke-width="0.8"/>
<circle cx="263.70" cy="391.50" r="2.9" fill="#fff" stroke="#777" stroke-width="0.8"/>
<circle cx="263.70" cy="401.50" r="2.9" fill="#fbfaf5" stroke="#333" stroke-width="0.5"/>
<circle cx="263.70" cy="407.30" r="2.9" fill="#fbfaf5" stroke="#333" stroke-width="0.5"/>
<circle cx="258.50" cy="415.60" r="2.9" fill="#fbfaf5" stroke="#333" stroke-width="0.5"/>
<circle cx="268.80" cy="415.60" r="2.9" fill="#fbfaf5" stroke="#333" stroke-width="0.5"/>
<circle cx="301.20" cy="397.10" r="2.9" fill="#fff" stroke="#777" stroke-width="0.8"/>
<circle cx="291.20" cy="408.80" r="2.9" fill="#fff" stroke="#777" stroke-width="0.8"/>
<circle cx="311.20" cy="414.00" r="2.9" fill="#fff" stroke="#777" stroke-width="0.8"/>
<circle cx="291.20" cy="417.90" r="2.9" fill="#fff" stroke="#777" stroke-width="0.8"/>
<circle cx="301.20" cy="419.80" r="2.9" fill="#fff" stroke="#777" stroke-width="0.8"/>
<circle cx="311.20" cy="422.10" r="2.9" fill="#fff" stroke="#777" stroke-width="0.8"/>
<circle cx="291.20" cy="425.00" r="2.9" fill="#fbfaf5" stroke="#333" stroke-width="0.5"/>
<circle cx="301.20" cy="431.70" r="2.9" fill="#fbfaf5" stroke="#333" stroke-width="0.5"/>
<circle cx="306.50" cy="437.10" r="2.9" fill="#fbfaf5" stroke="#333" stroke-width="0.5"/>
<circle cx="296.00" cy="439.60" r="2.9" fill="#fbfaf5" stroke="#333" stroke-width="0.5"/>
<line x1="242.3" y1="315" x2="242.3" y2="452.2" stroke="#000" stroke-width="2" />
<line x1="237.3" y1="451.2" x2="320.5" y2="451.2" stroke="#000" stroke-width="2" />
<line x1="237.3" y1="451.2" x2="242.3" y2="451.2" stroke="#000" stroke-width="1.3" />
<text x="232.5" y="456.18" font-size="13.780000000000001" text-anchor="end" fill="#111" font-weight="normal" textLength="7.23" lengthAdjust="spacingAndGlyphs" >0</text>
<line x1="237.3" y1="407.45" x2="242.3" y2="407.45" stroke="#000" stroke-width="1.3" />
<text x="232.5" y="412.43" font-size="13.780000000000001" text-anchor="end" fill="#111" font-weight="normal" textLength="14.46" lengthAdjust="spacingAndGlyphs" >50</text>
<line x1="237.3" y1="363.7" x2="242.3" y2="363.7" stroke="#000" stroke-width="1.3" />
<text x="232.5" y="368.68" font-size="13.780000000000001" text-anchor="end" fill="#111" font-weight="normal" textLength="21.68" lengthAdjust="spacingAndGlyphs" >100</text>
<line x1="237.3" y1="319.95" x2="242.3" y2="319.95" stroke="#000" stroke-width="1.3" />
<text x="232.5" y="324.93" font-size="13.780000000000001" text-anchor="end" fill="#111" font-weight="normal" textLength="21.68" lengthAdjust="spacingAndGlyphs" >150</text>
<line x1="266.2" y1="318.2" x2="300.8" y2="318.2" stroke="#000" stroke-width="1.8" />
<line x1="266.2" y1="313.8" x2="266.2" y2="322.59999999999997" stroke="#000" stroke-width="1.6" />
<line x1="300.8" y1="313.8" x2="300.8" y2="322.59999999999997" stroke="#000" stroke-width="1.6" />
<text x="254.5" y="307.7" font-size="12.8" text-anchor="start" fill="#111" font-weight="normal" textLength="58.2" lengthAdjust="spacingAndGlyphs" >p = 0.0031</text>
<text transform="translate(200.9,442) rotate(-90)" font-size="15.4" fill="#111" textLength="119.3" lengthAdjust="spacingAndGlyphs">Infarct volume (mm<tspan font-size="9.5" dy="-4.6">3</tspan><tspan dy="4.6">)</tspan></text>
<g transform="translate(272.0,461.0) rotate(-45)">
<text x="-64.30" y="0" font-size="13.3" fill="#111" textLength="33.2" lengthAdjust="spacingAndGlyphs">CypD</text>
<text x="-30.50" y="-4.2" font-size="10.5" fill="#111" textLength="30.5" lengthAdjust="spacingAndGlyphs">plt+/+</text>
</g>
<g transform="translate(311.5,461.0) rotate(-45)">
<text x="-57.30" y="0" font-size="13.3" fill="#111" textLength="33.2" lengthAdjust="spacingAndGlyphs">CypD</text>
<text x="-23.50" y="-4.2" font-size="10.5" fill="#111" textLength="23.5" lengthAdjust="spacingAndGlyphs">plt-/-</text>
</g>
<text x="264.6" y="291.2" font-size="15" text-anchor="start" fill="#a3002a" font-weight="normal" textLength="34.5" lengthAdjust="spacingAndGlyphs" >Male</text>
<rect x="421.7" y="371.57" width="24.80" height="79.62" fill="#a3002a"/>
<rect x="459.2" y="413.93" width="24.60" height="37.27" fill="#2d4a7c"/>
<line x1="434" y1="347.3" x2="434" y2="392.9" stroke="#000" stroke-width="1.7" />
<line x1="427.3" y1="347.3" x2="440.7" y2="347.3" stroke="#000" stroke-width="1.7" />
<line x1="427.3" y1="392.9" x2="440.7" y2="392.9" stroke="#000" stroke-width="1.7" />
<line x1="471.5" y1="398.3" x2="471.5" y2="426.5" stroke="#000" stroke-width="1.7" />
<line x1="464.8" y1="398.3" x2="478.2" y2="398.3" stroke="#000" stroke-width="1.7" />
<line x1="464.8" y1="426.5" x2="478.2" y2="426.5" stroke="#000" stroke-width="1.7" />
<circle cx="428.80" cy="347.70" r="2.9" fill="#fff" stroke="#777" stroke-width="0.8"/>
<circle cx="428.80" cy="353.10" r="2.9" fill="#fff" stroke="#777" stroke-width="0.8"/>
<circle cx="439.40" cy="350.60" r="2.9" fill="#fff" stroke="#777" stroke-width="0.8"/>
<circle cx="434.00" cy="365.00" r="2.9" fill="#fff" stroke="#777" stroke-width="0.8"/>
<circle cx="434.00" cy="373.70" r="2.9" fill="#fbfaf5" stroke="#333" stroke-width="0.5"/>
<circle cx="434.00" cy="394.80" r="2.9" fill="#fbfaf5" stroke="#333" stroke-width="0.5"/>
<circle cx="434.00" cy="406.90" r="2.9" fill="#fbfaf5" stroke="#333" stroke-width="0.5"/>
<circle cx="471.50" cy="391.00" r="2.9" fill="#fff" stroke="#777" stroke-width="0.8"/>
<circle cx="466.00" cy="403.00" r="2.9" fill="#fff" stroke="#777" stroke-width="0.8"/>
<circle cx="476.50" cy="400.20" r="2.9" fill="#fff" stroke="#777" stroke-width="0.8"/>
<circle cx="471.50" cy="409.20" r="2.9" fill="#fff" stroke="#777" stroke-width="0.8"/>
<circle cx="461.50" cy="413.70" r="2.9" fill="#fff" stroke="#777" stroke-width="0.8"/>
<circle cx="481.50" cy="410.60" r="2.9" fill="#fff" stroke="#777" stroke-width="0.8"/>
<circle cx="471.50" cy="424.60" r="2.9" fill="#fbfaf5" stroke="#333" stroke-width="0.5"/>
<circle cx="466.00" cy="430.40" r="2.9" fill="#fbfaf5" stroke="#333" stroke-width="0.5"/>
<circle cx="476.50" cy="430.40" r="2.9" fill="#fbfaf5" stroke="#333" stroke-width="0.5"/>
<line x1="412.6" y1="315" x2="412.6" y2="452.2" stroke="#000" stroke-width="2" />
<line x1="407.5" y1="451.2" x2="490.5" y2="451.2" stroke="#000" stroke-width="2" />
<line x1="407.5" y1="451.2" x2="412.6" y2="451.2" stroke="#000" stroke-width="1.3" />
<text x="402.8" y="456.18" font-size="13.780000000000001" text-anchor="end" fill="#111" font-weight="normal" textLength="7.23" lengthAdjust="spacingAndGlyphs" >0</text>
<line x1="407.5" y1="407.45" x2="412.6" y2="407.45" stroke="#000" stroke-width="1.3" />
<text x="402.8" y="412.43" font-size="13.780000000000001" text-anchor="end" fill="#111" font-weight="normal" textLength="14.46" lengthAdjust="spacingAndGlyphs" >50</text>
<line x1="407.5" y1="363.7" x2="412.6" y2="363.7" stroke="#000" stroke-width="1.3" />
<text x="402.8" y="368.68" font-size="13.780000000000001" text-anchor="end" fill="#111" font-weight="normal" textLength="21.68" lengthAdjust="spacingAndGlyphs" >100</text>
<line x1="407.5" y1="319.95" x2="412.6" y2="319.95" stroke="#000" stroke-width="1.3" />
<text x="402.8" y="324.93" font-size="13.780000000000001" text-anchor="end" fill="#111" font-weight="normal" textLength="21.68" lengthAdjust="spacingAndGlyphs" >150</text>
<line x1="436.2" y1="318.2" x2="470.8" y2="318.2" stroke="#000" stroke-width="1.8" />
<line x1="436.2" y1="313.8" x2="436.2" y2="322.59999999999997" stroke="#000" stroke-width="1.6" />
<line x1="470.8" y1="313.8" x2="470.8" y2="322.59999999999997" stroke="#000" stroke-width="1.6" />
<text x="424.5" y="307.7" font-size="12.8" text-anchor="start" fill="#111" font-weight="normal" textLength="60" lengthAdjust="spacingAndGlyphs" >p = 0.0004</text>
<text transform="translate(371.2,442) rotate(-90)" font-size="15.4" fill="#111" textLength="119" lengthAdjust="spacingAndGlyphs">Infarct volume (mm<tspan font-size="9.5" dy="-4.6">3</tspan><tspan dy="4.6">)</tspan></text>
<g transform="translate(441.5,461.0) rotate(-45)">
<text x="-64.30" y="0" font-size="13.3" fill="#111" textLength="33.2" lengthAdjust="spacingAndGlyphs">CypD</text>
<text x="-30.50" y="-4.2" font-size="10.5" fill="#111" textLength="30.5" lengthAdjust="spacingAndGlyphs">plt+/+</text>
</g>
<g transform="translate(481.5,461.0) rotate(-45)">
<text x="-57.30" y="0" font-size="13.3" fill="#111" textLength="33.2" lengthAdjust="spacingAndGlyphs">CypD</text>
<text x="-23.50" y="-4.2" font-size="10.5" fill="#111" textLength="23.5" lengthAdjust="spacingAndGlyphs">plt-/-</text>
</g>
<text x="425.6" y="291.2" font-size="15" text-anchor="start" fill="#a3002a" font-weight="normal" textLength="52" lengthAdjust="spacingAndGlyphs" >Female</text>
<line x1="164.1" y1="569" x2="164.1" y2="705.8" stroke="#000" stroke-width="2" />
<line x1="158.6" y1="686.5" x2="164.1" y2="686.5" stroke="#000" stroke-width="1.3" />
<text x="153" y="691.0" font-size="12.5" text-anchor="end" fill="#111" font-weight="normal" >0</text>
<line x1="158.6" y1="663.94" x2="164.1" y2="663.94" stroke="#000" stroke-width="1.3" />
<text x="153" y="668.44" font-size="12.5" text-anchor="end" fill="#111" font-weight="normal" >20</text>
<line x1="158.6" y1="641.38" x2="164.1" y2="641.38" stroke="#000" stroke-width="1.3" />
<text x="153" y="645.88" font-size="12.5" text-anchor="end" fill="#111" font-weight="normal" >40</text>
<line x1="158.6" y1="618.82" x2="164.1" y2="618.82" stroke="#000" stroke-width="1.3" />
<text x="153" y="623.32" font-size="12.5" text-anchor="end" fill="#111" font-weight="normal" >60</text>
<line x1="158.6" y1="596.26" x2="164.1" y2="596.26" stroke="#000" stroke-width="1.3" />
<text x="153" y="600.76" font-size="12.5" text-anchor="end" fill="#111" font-weight="normal" >80</text>
<line x1="158.6" y1="573.7" x2="164.1" y2="573.7" stroke="#000" stroke-width="1.3" />
<text x="153" y="578.2" font-size="12.5" text-anchor="end" fill="#111" font-weight="normal" >100</text>
<line x1="163.1" y1="704.8" x2="256" y2="704.8" stroke="#000" stroke-width="2" />
<line x1="263" y1="704.8" x2="301" y2="704.8" stroke="#000" stroke-width="2" />
<line x1="312" y1="704.8" x2="352" y2="704.8" stroke="#000" stroke-width="2" />
<line x1="253.5" y1="707.5" x2="258.5" y2="701.5" stroke="#000" stroke-width="1.6" />
<line x1="261" y1="707.5" x2="266" y2="701.5" stroke="#000" stroke-width="1.6" />
<line x1="298.5" y1="707.5" x2="303.5" y2="701.5" stroke="#000" stroke-width="1.6" />
<line x1="309.5" y1="707.5" x2="314.5" y2="701.5" stroke="#000" stroke-width="1.6" />
<line x1="176.5" y1="704.8" x2="176.5" y2="709.8" stroke="#000" stroke-width="1.3" />
<line x1="212" y1="704.8" x2="212" y2="709.8" stroke="#000" stroke-width="1.3" />
<line x1="247.5" y1="704.8" x2="247.5" y2="709.8" stroke="#000" stroke-width="1.3" />
<line x1="281.7" y1="704.8" x2="281.7" y2="709.8" stroke="#000" stroke-width="1.3" />
<line x1="332.2" y1="704.8" x2="332.2" y2="709.8" stroke="#000" stroke-width="1.3" />
<polyline points="176.5,573.5 212,672.6 247.5,626" fill="none" stroke="#2d4a7c" stroke-width="1.7"/>
<polyline points="176.5,573.5 212,672.6 247.5,626" fill="none" stroke="#a3002a" stroke-width="1.7" stroke-dasharray="1.5,1.5"/>
<polyline points="261.2,628.1 281.5,631.5 302.8,628.5" fill="none" stroke="#2d4a7c" stroke-width="1.6"/>
<line x1="311.1" y1="627.6" x2="332.3" y2="624.6" stroke="#2d4a7c" stroke-width="1.6"/>
<polyline points="261.2,635.7 281.5,651.2 300.5,653" fill="none" stroke="#a3002a" stroke-width="1.5" stroke-dasharray="1.5,2"/>
<line x1="313.4" y1="653.5" x2="332.3" y2="655.3" stroke="#a3002a" stroke-width="1.5" stroke-dasharray="1.5,2"/>
<line x1="212" y1="672.6" x2="212" y2="667.4" stroke="#a3002a" stroke-width="1.5" />
<line x1="208.8" y1="667.4" x2="215.2" y2="667.4" stroke="#a3002a" stroke-width="1.5" />
<line x1="247.5" y1="626" x2="247.5" y2="616.1" stroke="#a3002a" stroke-width="1.5" />
<line x1="244.3" y1="616.1" x2="250.7" y2="616.1" stroke="#a3002a" stroke-width="1.5" />
<line x1="248" y1="626" x2="248" y2="619.5" stroke="#2d4a7c" stroke-width="1.5" />
<line x1="245.4" y1="619.5" x2="250.6" y2="619.5" stroke="#2d4a7c" stroke-width="1.5" />
<line x1="281.5" y1="631.5" x2="281.5" y2="614.9" stroke="#2d4a7c" stroke-width="1.5" />
<line x1="278.9" y1="614.9" x2="284.1" y2="614.9" stroke="#2d4a7c" stroke-width="1.5" />
<line x1="332.3" y1="624.6" x2="332.3" y2="609.6" stroke="#2d4a7c" stroke-width="1.5" />
<line x1="329.7" y1="609.6" x2="334.90000000000003" y2="609.6" stroke="#2d4a7c" stroke-width="1.5" />
<line x1="281.5" y1="651.2" x2="281.5" y2="640.1" stroke="#a3002a" stroke-width="1.5" />
<line x1="278.9" y1="640.1" x2="284.1" y2="640.1" stroke="#a3002a" stroke-width="1.5" />
<line x1="332.3" y1="655.3" x2="332.3" y2="646.5" stroke="#a3002a" stroke-width="1.5" />
<line x1="329.7" y1="646.5" x2="334.90000000000003" y2="646.5" stroke="#a3002a" stroke-width="1.5" />
<circle cx="176.5" cy="573.5" r="3" fill="#a3002a" stroke="#2d4a7c" stroke-width="1"/>
<circle cx="212" cy="672.8" r="3" fill="#a3002a" stroke="#2d4a7c" stroke-width="1"/>
<circle cx="248.2" cy="627" r="3" fill="#2d4a7c"/>
<circle cx="247.3" cy="625.8" r="2.7" fill="#a3002a"/>
<circle cx="281.5" cy="631.5" r="3.3" fill="#2d4a7c"/>
<circle cx="332.3" cy="624.6" r="3.3" fill="#2d4a7c"/>
<circle cx="281.5" cy="651.2" r="2.5" fill="#a3002a"/>
<circle cx="332.3" cy="655.3" r="2.5" fill="#a3002a"/>
<g transform="translate(276.5,606.5) rotate(-45)"><text x="0" y="0" font-size="13.5" fill="#111">p = 0.0256</text></g>
<g transform="translate(322.5,606.5) rotate(-45)"><text x="0" y="0" font-size="13.5" fill="#111">p = 0.0002</text></g>
<text x="345.9" y="624.8" font-size="13.3" text-anchor="start" fill="#111" font-weight="normal" textLength="33.2" lengthAdjust="spacingAndGlyphs" >CypD</text>
<text x="379.7" y="620.5999999999999" font-size="10.5" text-anchor="start" fill="#111" font-weight="normal" textLength="23.5" lengthAdjust="spacingAndGlyphs" >plt-/-</text>
<text x="345.9" y="655.5" font-size="13.3" text-anchor="start" fill="#111" font-weight="normal" textLength="33.2" lengthAdjust="spacingAndGlyphs" >CypD</text>
<text x="379.7" y="651.3" font-size="10.5" text-anchor="start" fill="#111" font-weight="normal" textLength="30.5" lengthAdjust="spacingAndGlyphs" >plt+/+</text>
<text transform="translate(121.6,688) rotate(-90)" font-size="13.7" fill="#111" textLength="97.8" lengthAdjust="spacingAndGlyphs">rCBF (% baseline)</text>
<g transform="translate(183,720.5) rotate(-45)"><text x="0" y="0" font-size="13" text-anchor="end" fill="#111">Baseline</text></g>
<g transform="translate(218.5,720.5) rotate(-45)"><text x="0" y="0" font-size="13" text-anchor="end" fill="#111">Ischemia</text></g>
<g transform="translate(253.5,720.5) rotate(-45)"><text x="0" y="0" font-size="13" text-anchor="end" fill="#111">Reperfusion</text></g>
<text x="281.7" y="725.5" font-size="12.5" text-anchor="middle" fill="#111" font-weight="normal" >3h</text>
<text x="332.2" y="725.5" font-size="12.5" text-anchor="middle" fill="#111" font-weight="normal" >24h</text>
<rect x="0" y="0" width="520" height="784" fill="none" stroke="#000" stroke-width="3"/>
</svg></body></html>
